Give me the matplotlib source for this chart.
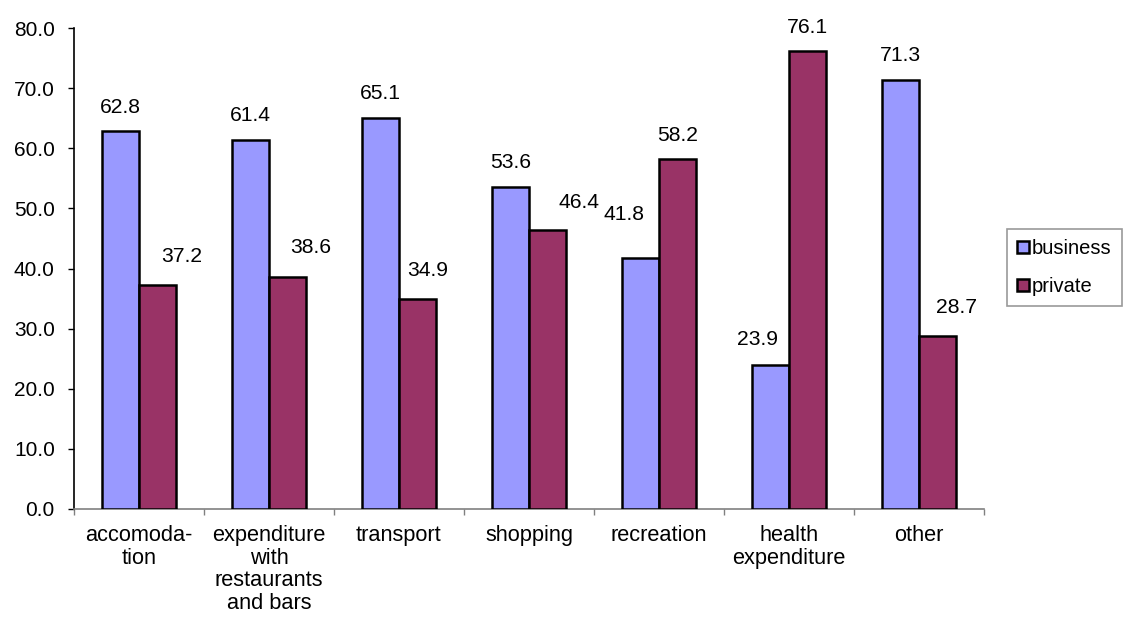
import matplotlib
matplotlib.use("Agg")
import matplotlib.pyplot as plt
from matplotlib.patches import Patch
import numpy as np

plt.rcParams['font.family'] = ['Liberation Sans', 'DejaVu Sans']

categories = ["accomoda-\ntion", "expenditure\nwith\nrestaurants\nand bars", "transport",
              "shopping", "recreation", "health\nexpenditure", "other"]
business = [62.8, 61.4, 65.1, 53.6, 41.8, 23.9, 71.3]
private = [37.2, 38.6, 34.9, 46.4, 58.2, 76.1, 28.7]
series_names = ["business", "private"]
yticks = [0, 10, 20, 30, 40, 50, 60, 70, 80]

# label offsets in pixels (dx, dy above bar top to label centre)
business_off = [(0, 24), (0, 24), (0, 24), (0, 24), (-16, 43), (-13, 26), (0, 25)]
private_off = [(24, 29), (23, 29), (10, 29), (31, 28), (0, 24), (0, 24), (19, 29)]

c_bus = "#9999FF"
c_pri = "#993366"
FS_X = 15.7
FS_Y = 15
FS_V = 15.2
FS_L = 14.5

fig = plt.figure(figsize=(11.24, 6.19), dpi=100)
ax = fig.add_axes([74/1124, 1-509/619, 910/1124, (509-28)/619])

x = np.arange(len(categories))
w = 1/3.5
b1 = ax.bar(x - w/2, business, w, color=c_bus, edgecolor="black", linewidth=1.8, zorder=3)
b2 = ax.bar(x + w/2, private, w, color=c_pri, edgecolor="black", linewidth=1.8, zorder=3)

for rects, vals, offs in ((b1, business, business_off), (b2, private, private_off)):
    for r, v, (dx, dy) in zip(rects, vals, offs):
        ax.annotate(f"{v:.1f}", (r.get_x() + r.get_width()/2, v),
                    xytext=(dx, dy), textcoords="offset pixels",
                    ha="center", va="center", fontsize=FS_V, color="black")

ax.set_ylim(0, 80)
ax.set_xlim(-0.5, len(categories) - 0.5)
ax.set_yticks(yticks)
ax.set_yticklabels([f"{t:.1f}" for t in yticks], fontsize=FS_Y)
ax.tick_params(axis="y", direction="out", length=4.3, width=1, color="black", pad=9.5)

ax.set_xticks(x)
ax.set_xticklabels(categories, fontsize=FS_X, linespacing=1.1, va="top")
ax.set_xticks(np.arange(len(categories) + 1) - 0.5, minor=True)
ax.tick_params(axis="x", which="major", length=0, pad=11.5)
ax.tick_params(axis="x", which="minor", length=4.3, width=1, color="#808080", direction="out")

for s in ("top", "right"):
    ax.spines[s].set_visible(False)
ax.spines["left"].set_color("black")
ax.spines["left"].set_linewidth(1.2)
ax.spines["bottom"].set_color("#808080")
ax.spines["bottom"].set_linewidth(1.2)

handles = [Patch(facecolor=c_bus, edgecolor="black", linewidth=1.8),
           Patch(facecolor=c_pri, edgecolor="black", linewidth=1.8)]
leg = fig.legend(handles, series_names, loc="upper left",
                 bbox_to_anchor=(1007/1124, 1-229/619), fontsize=FS_L,
                 handlelength=0.6, handleheight=0.6, handletextpad=0.15,
                 labelspacing=0.95, borderpad=0.5, borderaxespad=0,
                 fancybox=False, frameon=True)
leg.get_frame().set_edgecolor("#808080")
leg.get_frame().set_linewidth(1.2)

fig.savefig("out.png", dpi=100)
